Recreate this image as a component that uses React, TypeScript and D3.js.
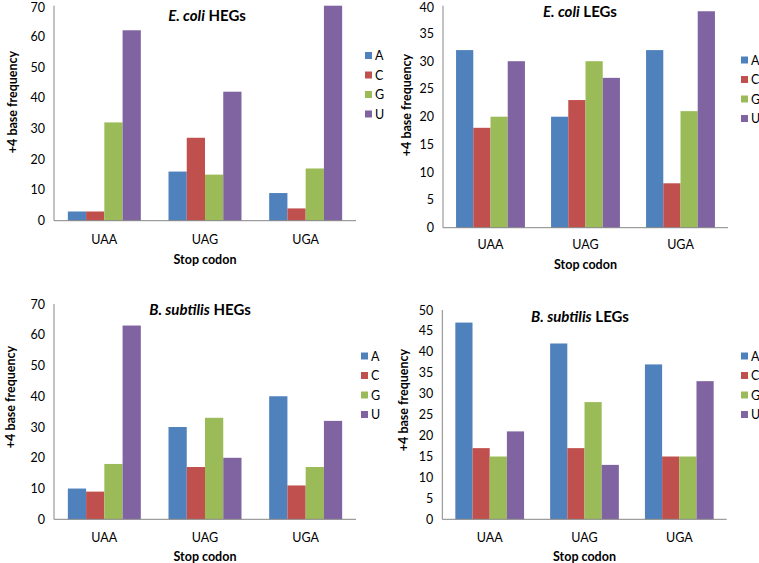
import React from "react";
import * as d3 from "d3";

const codons = ["UAA", "UAG", "UGA"];
const bases = ["A", "C", "G", "U"];
const baseColors = ["#4F81BD", "#C0504D", "#9BBB59", "#8064A2"];

// values indexed [base][codon]
const ecoliHEG = [
  [3, 16, 9],
  [3, 27, 4],
  [32, 15, 17],
  [62, 42, 70],
];
const ecoliLEG = [
  [32, 20, 32],
  [18, 23, 8],
  [20, 30, 21],
  [30, 27, 39],
];
const bsubHEG = [
  [10, 30, 40],
  [9, 17, 11],
  [18, 33, 17],
  [63, 20, 32],
];
const bsubLEG = [
  [47, 42, 37],
  [17, 17, 15],
  [15, 28, 15],
  [21, 13, 33],
];

const ticksHEG = [0, 10, 20, 30, 40, 50, 60, 70];
const ticksEcoliLEG = [0, 5, 10, 15, 20, 25, 30, 35, 40];
const ticksBsubLEG = [0, 5, 10, 15, 20, 25, 30, 35, 40, 45, 50];

const FONT = "Lato, 'Open Sans', sans-serif";

type PanelProps = {
  species: string;
  kind: string;
  data: number[][];
  ticks: number[];
  x0: number;
  x1: number;
  yTop: number;
  yBot: number;
  titleX: number;
  titleY: number;
  legendX: number;
  legendY: number;
  yLabelX: number;
  yLabelY: number;
  xTickY: number;
  xTitleY: number;
};

function Panel(p: PanelProps) {
  const maxV = p.ticks[p.ticks.length - 1];
  const y = d3.scaleLinear().domain([0, maxV]).range([p.yBot, p.yTop]);
  const xBand = d3.scaleBand().domain(codons).range([p.x0, p.x1]).paddingInner(0).paddingOuter(0);
  const groupW = xBand.bandwidth() * 0.725;
  const xInner = d3.scaleBand().domain(bases).range([0, groupW]).padding(0);
  const axisColor = "#868686";
  return (
    <g>
      {p.data.map((series, bi) =>
        series.map((v, ci) => {
          const bx = (xBand(codons[ci]) as number) + (xBand.bandwidth() - groupW) / 2 + (xInner(bases[bi]) as number);
          return (
            <rect
              key={`${bi}-${ci}`}
              x={bx}
              y={y(v)}
              width={xInner.bandwidth()}
              height={p.yBot - y(v)}
              fill={baseColors[bi]}
            />
          );
        })
      )}
      <line x1={p.x0} x2={p.x0} y1={p.yTop} y2={p.yBot} stroke={axisColor} strokeWidth={1} />
      <line x1={p.x0} x2={p.x1} y1={p.yBot} y2={p.yBot} stroke={axisColor} strokeWidth={1} />
      {p.ticks.map((t) => (
        <text
          key={t}
          x={p.x0 - 9}
          y={Math.max(y(t), 7.5)}
          textAnchor="end"
          dominantBaseline="central"
          fontSize={12.5}
          fontFamily={FONT}
          fill="#000"
        >
          {t}
        </text>
      ))}
      {codons.map((c) => (
        <text
          key={c}
          x={(xBand(c) as number) + xBand.bandwidth() / 2}
          y={p.xTickY}
          textAnchor="middle"
          dominantBaseline="central"
          fontSize={12.5}
          fontFamily={FONT}
          fill="#000"
        >
          {c}
        </text>
      ))}
      <text
        x={p.titleX}
        y={p.titleY}
        textAnchor="middle"
        dominantBaseline="central"
        fontSize={15}
        fontWeight="bold"
        fontFamily={FONT}
      >
        <tspan fontStyle="italic">{p.species}</tspan>
        <tspan> {p.kind}</tspan>
      </text>
      <text
        x={(p.x0 + p.x1) / 2}
        y={p.xTitleY}
        textAnchor="middle"
        dominantBaseline="central"
        fontSize={12.5}
        fontWeight="bold"
        fontFamily={FONT}
      >
        Stop codon
      </text>
      <text
        transform={`translate(${p.yLabelX},${p.yLabelY}) rotate(-90)`}
        textAnchor="middle"
        dominantBaseline="central"
        fontSize={12.5}
        fontWeight="bold"
        fontFamily={FONT}
      >
        +4 base frequency
      </text>
      {bases.map((b, i) => (
        <g key={b} transform={`translate(${p.legendX},${p.legendY + i * 19.5})`}>
          <rect x={0} y={-3.5} width={7} height={7} fill={baseColors[i]} />
          <text x={10} y={0} dominantBaseline="central" fontSize={12.5} fontFamily={FONT}>
            {b}
          </text>
        </g>
      ))}
    </g>
  );
}

export default function App() {
  return (
    <svg
      width={759}
      height={563}
      style={{ position: "absolute", left: 0, top: 0, background: "#fff" }}
    >
      <rect width={759} height={563} fill="#fff" />
      <Panel
        species="E. coli"
        kind="HEGs"
        data={ecoliHEG}
        ticks={ticksHEG}
        x0={54}
        x1={356}
        yTop={5.7}
        yBot={220.7}
        titleX={207}
        titleY={15}
        legendX={365}
        legendY={55.5}
        yLabelX={12}
        yLabelY={102}
        xTickY={239}
        xTitleY={259}
      />
      <Panel
        species="E. coli"
        kind="LEGs"
        data={ecoliLEG}
        ticks={ticksEcoliLEG}
        x0={443}
        x1={728}
        yTop={5.7}
        yBot={227.7}
        titleX={580}
        titleY={11}
        legendX={741}
        legendY={60}
        yLabelX={406}
        yLabelY={105}
        xTickY={244.5}
        xTitleY={264}
      />
      <Panel
        species="B. subtilis"
        kind="HEGs"
        data={bsubHEG}
        ticks={ticksHEG}
        x0={54}
        x1={356}
        yTop={304}
        yBot={519.3}
        titleX={200}
        titleY={309}
        legendX={361}
        legendY={356}
        yLabelX={10}
        yLabelY={397}
        xTickY={537}
        xTitleY={556}
      />
      <Panel
        species="B. subtilis"
        kind="LEGs"
        data={bsubLEG}
        ticks={ticksBsubLEG}
        x0={442.3}
        x1={726.7}
        yTop={310}
        yBot={519.3}
        titleX={580}
        titleY={316}
        legendX={741}
        legendY={356}
        yLabelX={403}
        yLabelY={400}
        xTickY={537}
        xTitleY={556}
      />
    </svg>
  );
}
